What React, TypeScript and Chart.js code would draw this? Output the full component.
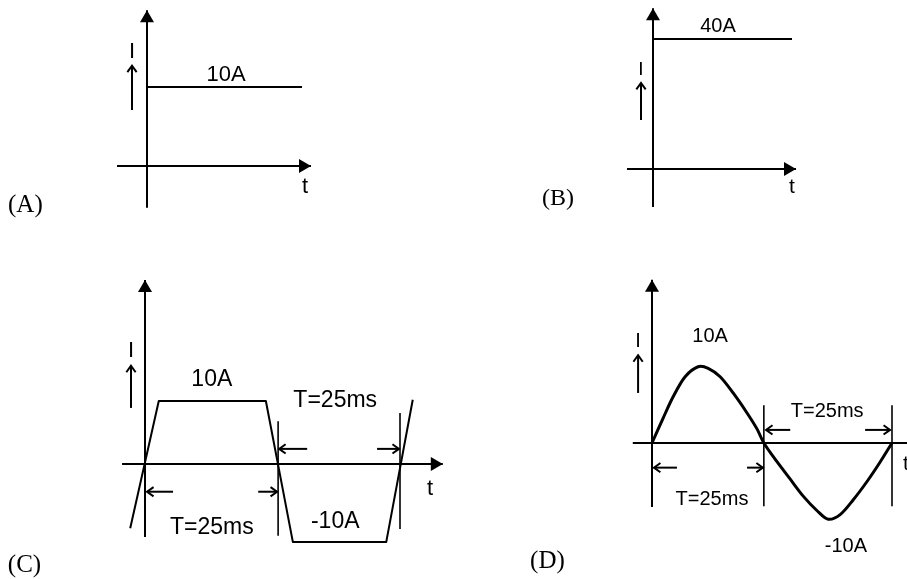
import React, { useEffect, useRef } from "react";
import { Chart, registerables } from "chart.js";

Chart.register(...registerables);

// ---------- data ----------
// (A) constant current 10 A
const aTime = [0, 15.5];
const aCurrent = [10, 10];
// (B) constant current 40 A
const bTime = [0, 13.9];
const bCurrent = [40, 40];
// (C) trapezoidal alternating current
const cTime = [-2.9, 2.7, 23.7, 29.0, 47.3, 52.5];
const cCurrent = [-10.2, 10, 10, -12.4, -12.4, 10.2];
// (D) sinusoidal current
const dTime = [0, 2.3, 4.4, 6.9, 9.6, 11.7, 14.2, 16.9, 19.8, 21.9, 23.3, 26.0, 28.8, 31.5, 34.4, 36.7, 39.2, 41.9, 44.8, 47.5, 50];
const dCurrent = [0, 3.2, 6.0, 8.6, 9.9, 9.7, 8.6, 6.5, 3.9, 1.8, 0, -2.4, -4.7, -6.9, -8.8, -9.9, -9.3, -7.4, -5.0, -2.5, 0];

// axis extents (t range, I range)
const aAxisT = [-3.0, 16.4];
const aAxisI = [-5.3, 19.7];
const bAxisT = [-2.6, 14.3];
const bAxisI = [-11.7, 49.5];
const cAxisT = [-4.5, 58.4];
const cAxisI = [-11.6, 29.2];
const dAxisT = [-4.0, 58.0];
const dAxisI = [-8.3, 21.2];

// period marker lines: t position, I from, I to
const cMarkerT = [26.1, 50];
const cMarkerFrom = [-11.4, -10.3];
const cMarkerTo = [6.8, 8.1];
const dMarkerT = [23.3, 50];
const dMarkerFrom = [-8.2, -8.2];
const dMarkerTo = [4.9, 4.9];

const SANS = "'Liberation Sans', Arial, Helvetica, sans-serif";
const SERIF = "'Liberation Serif', 'Times New Roman', Times, serif";

type Arrow = { t1: number; i1: number; t2: number; i2: number };
type Label = { text: string; t: number; i: number; align: CanvasTextAlign; font: string };
type Series = { t: number[]; i: number[]; width: number; tension: number };
type Panel = {
  key: string;
  rect: [number, number, number, number];
  origin: [number, number];
  unit: [number, number];
  tAxis: number[];
  iAxis: number[];
  series: Series[];
  markers: { t: number[]; from: number[]; to: number[] };
  arrows: Arrow[];
  labels: Label[];
};

const hArrow = (i: number, t1: number, t2: number): Arrow => ({ t1, i1: i, t2, i2: i });
const vArrow = (t: number, i1: number, i2: number): Arrow => ({ t1: t, i1, t2: t, i2 });
const lab = (text: string, t: number, i: number, font: string, align: CanvasTextAlign = "center"): Label => ({ text, t, i, font, align });

const PANELS: Panel[] = [
  {
    key: "A",
    rect: [0, 0, 453, 250],
    origin: [147, 166],
    unit: [10, 7.9],
    tAxis: aAxisT,
    iAxis: aAxisI,
    series: [{ t: aTime, i: aCurrent, width: 2, tension: 0 }],
    markers: { t: [], from: [], to: [] },
    arrows: [vArrow(-1.5, 7.1, 12.7)],
    labels: [
      lab("10A", 7.9, 10.8, `22px ${SANS}`),
      lab("I", -1.5, 13.7, `22px ${SANS}`),
      lab("t", 15.8, -3.4, `22px ${SANS}`),
      lab("(A)", -13.9, -5.8, `25px ${SERIF}`, "left"),
    ],
  },
  {
    key: "B",
    rect: [453, 0, 454, 250],
    origin: [653, 169],
    unit: [10, 3.25],
    tAxis: bAxisT,
    iAxis: bAxisI,
    series: [{ t: bTime, i: bCurrent, width: 2, tension: 0 }],
    markers: { t: [], from: [], to: [] },
    arrows: [vArrow(-1.2, 15.1, 26.5)],
    labels: [
      lab("40A", 6.5, 42.2, `20px ${SANS}`),
      lab("I", -1.2, 28.9, `19px ${SANS}`),
      lab("t", 13.9, -7.4, `21px ${SANS}`),
      lab("(B)", -11.1, -11.1, `24px ${SERIF}`, "left"),
    ],
  },
  {
    key: "C",
    rect: [0, 250, 453, 329],
    origin: [145, 464],
    unit: [5.1, 6.3],
    tAxis: cAxisT,
    iAxis: cAxisI,
    series: [{ t: cTime, i: cCurrent, width: 2, tension: 0 }],
    markers: { t: cMarkerT, from: cMarkerFrom, to: cMarkerTo },
    arrows: [
      vArrow(-2.75, 8.9, 15.6),
      hArrow(-4.4, 5.5, 0.4),
      hArrow(-4.4, 22.2, 25.9),
      hArrow(2.4, 31.8, 26.3),
      hArrow(2.4, 45.5, 49.8),
    ],
    labels: [
      lab("10A", 13.1, 12.4, `23px ${SANS}`),
      lab("T=25ms", 37.3, 9.0, `23px ${SANS}`),
      lab("T=25ms", 13.1, -11.1, `23px ${SANS}`),
      lab("-10A", 37.3, -10.2, `23px ${SANS}`),
      lab("I", -2.75, 17, `22px ${SANS}`),
      lab("t", 55.9, -4.9, `22px ${SANS}`),
      lab("(C)", -26.9, -17.1, `25px ${SERIF}`, "left"),
    ],
  },
  {
    key: "D",
    rect: [453, 250, 480, 329],
    origin: [652, 443],
    unit: [4.8, 7.7],
    tAxis: dAxisT,
    iAxis: dAxisI,
    series: [{ t: dTime, i: dCurrent, width: 3, tension: 0.3 }],
    markers: { t: dMarkerT, from: dMarkerFrom, to: dMarkerTo },
    arrows: [
      vArrow(-2.9, 6.5, 11.4),
      hArrow(-3.2, 5.2, 0.4),
      hArrow(-3.2, 19.8, 23.1),
      hArrow(1.7, 28.8, 23.75),
      hArrow(1.7, 44.4, 49.6),
    ],
    labels: [
      lab("10A", 12.1, 13.1, `20px ${SANS}`),
      lab("T=25ms", 36.5, 3.4, `20px ${SANS}`),
      lab("T=25ms", 12.5, -8.1, `20px ${SANS}`),
      lab("-10A", 40.4, -14.2, `20px ${SANS}`),
      lab("I", -2.9, 12.5, `20px ${SANS}`),
      lab("t", 52.3, -3.5, `21px ${SANS}`, "left"),
      lab("(D)", -25.4, -16.2, `25px ${SERIF}`, "left"),
    ],
  },
];

function filledHead(ctx: CanvasRenderingContext2D, x: number, y: number, ang: number) {
  const len = 12;
  const half = 7;
  const bx = x - len * Math.cos(ang);
  const by = y - len * Math.sin(ang);
  const nx = -Math.sin(ang) * half;
  const ny = Math.cos(ang) * half;
  ctx.beginPath();
  ctx.moveTo(x, y);
  ctx.lineTo(bx + nx, by + ny);
  ctx.lineTo(bx - nx, by - ny);
  ctx.closePath();
  ctx.fill();
}

function openArrow(ctx: CanvasRenderingContext2D, x1: number, y1: number, x2: number, y2: number) {
  const ang = Math.atan2(y2 - y1, x2 - x1);
  const len = 8;
  const spread = 0.62;
  ctx.beginPath();
  ctx.moveTo(x1, y1);
  ctx.lineTo(x2, y2);
  ctx.stroke();
  ctx.beginPath();
  ctx.moveTo(x2 - len * Math.cos(ang - spread), y2 - len * Math.sin(ang - spread));
  ctx.lineTo(x2, y2);
  ctx.lineTo(x2 - len * Math.cos(ang + spread), y2 - len * Math.sin(ang + spread));
  ctx.stroke();
}

function PanelChart({ p }: { p: Panel }) {
  const ref = useRef<HTMLCanvasElement | null>(null);
  const [L, T, W, H] = p.rect;

  useEffect(() => {
    if (!ref.current) return;
    const [ox, oy] = p.origin;
    const [sx, sy] = p.unit;
    const xMin = (L - ox) / sx;
    const xMax = (L + W - ox) / sx;
    const yMax = (oy - T) / sy;
    const yMin = (oy - T - H) / sy;

    const line = (pts: { x: number; y: number }[], width: number, tension = 0) => ({
      data: pts,
      showLine: true,
      borderColor: "#000",
      backgroundColor: "#000",
      borderWidth: width,
      pointRadius: 0,
      pointHoverRadius: 0,
      tension,
      fill: false,
      borderCapStyle: "butt" as const,
      borderJoinStyle: "round" as const,
    });

    const datasets: any[] = [];
    datasets.push(line([{ x: p.tAxis[0], y: 0 }, { x: p.tAxis[1], y: 0 }], 2));
    datasets.push(line([{ x: 0, y: p.iAxis[0] }, { x: 0, y: p.iAxis[1] }], 2));
    p.markers.t.forEach((t, k) =>
      datasets.push(line([{ x: t, y: p.markers.from[k] }, { x: t, y: p.markers.to[k] }], 1.6))
    );
    p.series.forEach((s) =>
      datasets.push(line(s.t.map((t, k) => ({ x: t, y: s.i[k] })), s.width, s.tension))
    );

    const annot = {
      id: "annot" + p.key,
      afterDatasetsDraw(chart: any) {
        const ctx: CanvasRenderingContext2D = chart.ctx;
        const xs = chart.scales.x;
        const ys = chart.scales.y;
        const px = (t: number) => xs.getPixelForValue(t);
        const py = (i: number) => ys.getPixelForValue(i);
        ctx.save();
        ctx.fillStyle = "#000";
        ctx.strokeStyle = "#000";
        ctx.lineCap = "butt";
        ctx.lineJoin = "miter";
        filledHead(ctx, px(p.tAxis[1]), py(0), 0);
        filledHead(ctx, px(0), py(p.iAxis[1]), -Math.PI / 2);
        ctx.lineWidth = 2;
        p.arrows.forEach((a) => openArrow(ctx, px(a.t1), py(a.i1), px(a.t2), py(a.i2)));
        ctx.textBaseline = "alphabetic";
        p.labels.forEach((l) => {
          ctx.font = l.font;
          ctx.textAlign = l.align;
          ctx.fillText(l.text, px(l.t), py(l.i));
        });
        ctx.restore();
      },
    };

    const chart = new Chart(ref.current, {
      type: "scatter",
      data: { datasets },
      options: {
        animation: false,
        responsive: false,
        events: [],
        layout: { padding: 0 },
        plugins: { legend: { display: false }, tooltip: { enabled: false }, title: { display: false } },
        scales: {
          x: { type: "linear", display: false, min: xMin, max: xMax },
          y: { type: "linear", display: false, min: yMin, max: yMax },
        },
      },
      plugins: [annot],
    } as any);
    return () => chart.destroy();
  }, [p]);

  return (
    <canvas
      ref={ref}
      width={W}
      height={H}
      style={{ position: "absolute", left: L, top: T, width: W, height: H }}
    />
  );
}

export default function App() {
  return (
    <div
      style={{
        position: "fixed",
        left: 0,
        top: 0,
        width: 907,
        height: 579,
        overflow: "hidden",
        background: "#fff",
      }}
    >
      {PANELS.map((p) => (
        <PanelChart key={p.key} p={p} />
      ))}
    </div>
  );
}
